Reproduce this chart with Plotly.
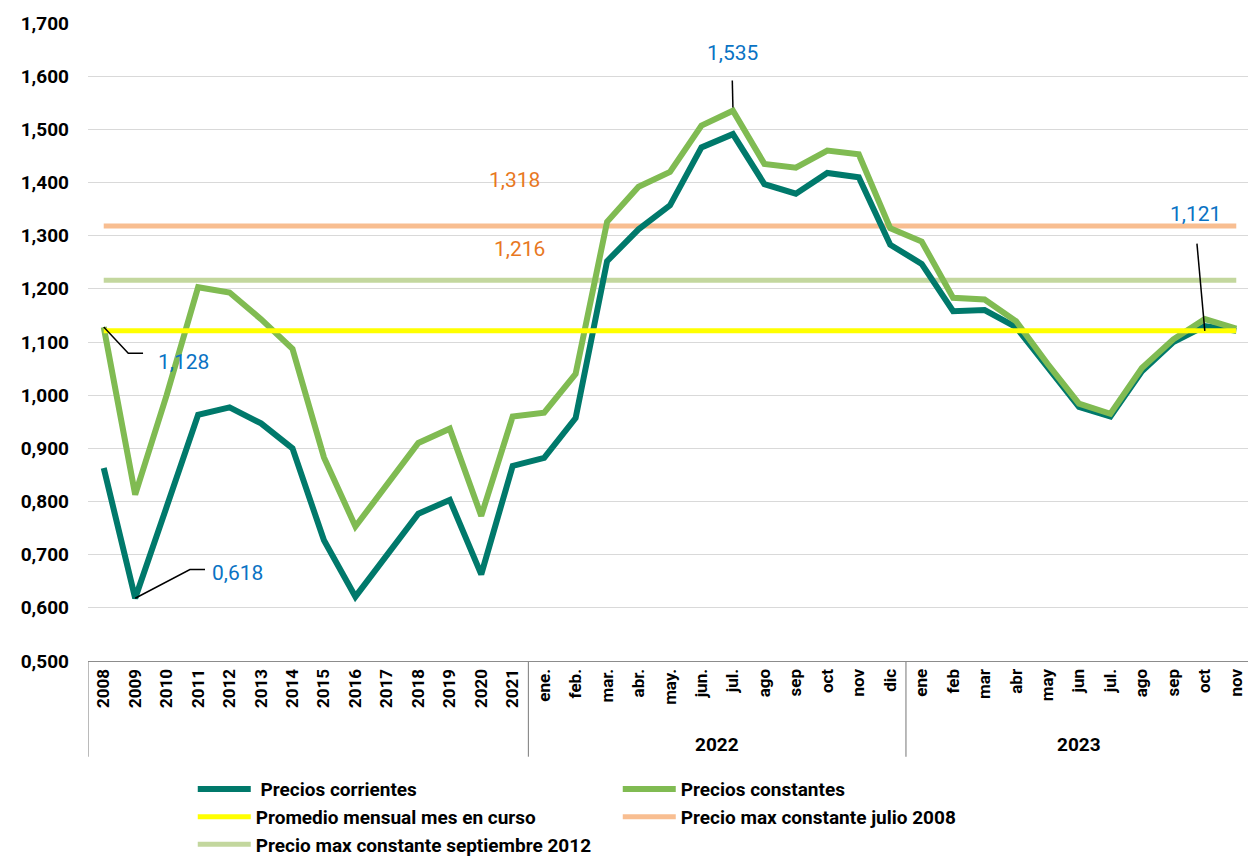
import plotly.graph_objects as go

# ---------------- data ----------------
labels = ["2008", "2009", "2010", "2011", "2012", "2013", "2014", "2015", "2016", "2017",
          "2018", "2019", "2020", "2021",
          "ene.", "feb.", "mar.", "abr.", "may.", "jun.", "jul.", "ago", "sep", "oct", "nov", "dic",
          "ene", "feb", "mar", "abr", "may", "jun", "jul.", "ago", "sep", "oct", "nov"]
groups = ["", "2022", "2023"]
group_sizes = [14, 12, 11]

corrientes = [0.863, 0.618, 0.790, 0.963, 0.977, 0.947, 0.900, 0.727, 0.621, 0.700,
              0.777, 0.803, 0.663, 0.867,
              0.882, 0.957, 1.252, 1.312, 1.357, 1.466, 1.491, 1.397, 1.379, 1.418, 1.410, 1.283,
              1.247, 1.158, 1.160, 1.128, 1.053, 0.978, 0.960, 1.045, 1.100, 1.130, 1.121]
constantes = [1.128, 0.813, 1.000, 1.203, 1.193, 1.143, 1.087, 0.883, 0.753, 0.830,
              0.910, 0.937, 0.773, 0.960,
              0.967, 1.040, 1.326, 1.392, 1.420, 1.507, 1.535, 1.435, 1.428, 1.460, 1.453, 1.314,
              1.289, 1.183, 1.180, 1.139, 1.059, 0.984, 0.965, 1.051, 1.105, 1.143, 1.125]
promedio_mes = 1.121
max_julio_2008 = 1.318
max_sept_2012 = 1.216

y_ticks = [0.5, 0.6, 0.7, 0.8, 0.9, 1.0, 1.1, 1.2, 1.3, 1.4, 1.5, 1.6, 1.7]
y_ticktext = ["0,500", "0,600", "0,700", "0,800", "0,900", "1,000", "1,100", "1,200",
              "1,300", "1,400", "1,500", "1,600", "1,700"]

# ---------------- styling ----------------
FONT = "Roboto, Liberation Sans, sans-serif"
C_DARK = "#00796B"
C_LIGHT = "#80BB52"
C_YELLOW = "#FFFF00"
C_ORANGE = "#F8BE91"
C_PALE = "#C3D79E"
C_BLUE = "#0A73C4"
C_ORANGE_TXT = "#E8781F"

xs = list(range(len(labels)))
n = len(labels)

fig = go.Figure()

fig.add_trace(go.Scatter(x=xs, y=[max_julio_2008] * n, mode="lines",
                         name="Precio max constante julio 2008",
                         line=dict(color=C_ORANGE, width=5), legendrank=4))
fig.add_trace(go.Scatter(x=xs, y=[max_sept_2012] * n, mode="lines",
                         name="Precio max constante septiembre 2012",
                         line=dict(color=C_PALE, width=5), legendrank=5))
fig.add_trace(go.Scatter(x=xs, y=corrientes, mode="lines", name=" Precios corrientes",
                         line=dict(color=C_DARK, width=6), legendrank=1))
fig.add_trace(go.Scatter(x=xs, y=constantes, mode="lines", name="Precios constantes",
                         line=dict(color=C_LIGHT, width=6), legendrank=2))
fig.add_trace(go.Scatter(x=xs, y=[promedio_mes] * n, mode="lines",
                         name="Promedio mensual mes en curso",
                         line=dict(color=C_YELLOW, width=5), legendrank=3))

# ---------------- group dividers and labels under the axis ----------------
bounds = [-0.5]
for s in group_sizes:
    bounds.append(bounds[-1] + s)
for b in bounds:
    fig.add_shape(type="line", xref="x", yref="paper", x0=b, x1=b, y0=0, y1=-0.15,
                  line=dict(color="#8c8c8c", width=1.2))
for g, a, b in zip(groups, bounds[:-1], bounds[1:]):
    if g:
        fig.add_annotation(x=(a + b) / 2, y=-0.131, xref="x", yref="paper", text=g,
                           showarrow=False,
                           font=dict(family=FONT, size=19, color="black", weight="bold"),
                           yanchor="middle")

# ---------------- data labels ----------------
lab_font = dict(family=FONT, size=21, color=C_BLUE)
fig.add_annotation(x=2.52, y=1.063, text="1,128", showarrow=False, font=lab_font)
fig.add_shape(type="path", xref="x", yref="y",
              path="M 0,1.128 L 0.78,1.079 L 1.25,1.079", line=dict(color="black", width=1.5))
fig.add_annotation(x=4.24, y=0.666, text="0,618", showarrow=False, font=lab_font)
fig.add_shape(type="path", xref="x", yref="y",
              path="M 1,0.618 L 2.74,0.672 L 3.22,0.672", line=dict(color="black", width=1.5))
fig.add_annotation(x=20.0, y=1.644, text="1,535", showarrow=False, font=lab_font)
fig.add_shape(type="line", xref="x", yref="y", x0=20.0, y0=1.541, x1=19.98, y1=1.592,
              line=dict(color="black", width=1.5))
fig.add_annotation(x=34.7, y=1.341, text="1,121", showarrow=False, font=lab_font)
fig.add_shape(type="line", xref="x", yref="y", x0=34.75, y0=1.285, x1=35.0, y1=1.121,
              line=dict(color="black", width=1.5))
org_font = dict(family=FONT, size=21, color=C_ORANGE_TXT)
fig.add_annotation(x=13.07, y=1.405, text="1,318", showarrow=False, font=org_font)
fig.add_annotation(x=13.23, y=1.274, text="1,216", showarrow=False, font=org_font)

fig.update_layout(
    width=1248, height=860,
    margin=dict(l=80, r=4, t=12, b=206),
    plot_bgcolor="white", paper_bgcolor="white",
    font=dict(family=FONT, color="black"),
    showlegend=True,
    legend=dict(orientation="h", x=0.09, y=-0.171, xanchor="left", yanchor="top",
                entrywidth=357, entrywidthmode="pixels",
                font=dict(family=FONT, size=19, color="black", weight="bold"),
                itemwidth=53),
    xaxis=dict(range=[-0.5, n - 0.5], tickmode="array", tickvals=xs, ticktext=labels,
               tickangle=-90,
               tickfont=dict(family=FONT, size=17, color="black", weight="bold"),
               showgrid=False, zeroline=False, showline=True, linecolor="#8c8c8c",
               linewidth=1.2, ticks=""),
    yaxis=dict(range=[0.5, 1.7], tickmode="array", tickvals=y_ticks, ticktext=y_ticktext,
               tickfont=dict(family=FONT, size=19, color="black", weight="bold"),
               showgrid=True, gridcolor="#d9d9d9", gridwidth=1.2, zeroline=False,
               showline=False, ticks="", ticklabelstandoff=18),
)

fig.write_html("out.html")
